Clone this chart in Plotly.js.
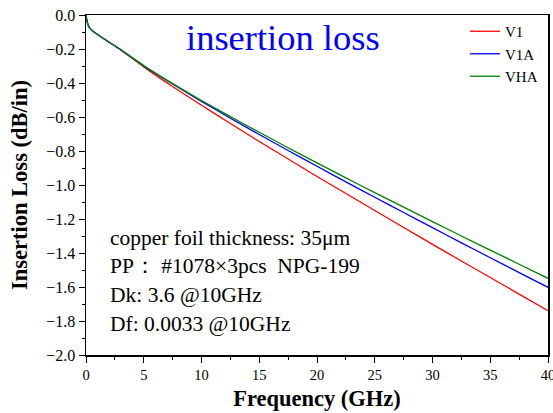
<!DOCTYPE html>
<html><head><meta charset="utf-8">
<script src="https://cdn.plot.ly/plotly-3.0.1.min.js"></script>
<style>html,body{margin:0;padding:0;background:#fff}#c{width:553px;height:413px}</style>
</head><body><div id="c"></div>
<script>
const freq = [0, 0.1, 0.3, 0.6, 1, 2, 3, 5, 7.5, 10, 12.5, 15, 17.5, 20, 22.5, 25, 27.5, 30, 32.5, 35, 37.5, 40];
const v1  = [0, -0.04, -0.075, -0.095, -0.115, -0.16, -0.205, -0.305, -0.421, -0.531, -0.638, -0.744, -0.847, -0.950, -1.050, -1.150, -1.250, -1.349, -1.447, -1.544, -1.642, -1.740];
const v1a = [0, -0.04, -0.075, -0.095, -0.115, -0.16, -0.204, -0.300, -0.406, -0.508, -0.607, -0.703, -0.797, -0.890, -0.982, -1.072, -1.162, -1.251, -1.340, -1.428, -1.515, -1.602];
const vha = [0, -0.04, -0.075, -0.095, -0.115, -0.16, -0.203, -0.298, -0.404, -0.503, -0.598, -0.690, -0.781, -0.870, -0.958, -1.045, -1.130, -1.215, -1.300, -1.383, -1.466, -1.549];
const seriesNames = ["V1", "V1A", "VHA"];
const seriesColors = ["#ff0000", "#0000ff", "#008000"];
const notes = ["copper foil thickness: 35μm", "PP： #1078×3pcs  NPG-199", "Dk: 3.6 @10GHz", "Df: 0.0033 @10GHz"];

const serif = "'Liberation Serif', 'Times New Roman', Times, serif";
const traces = [v1, v1a, vha].map((v, i) => ({
  x: freq, y: v, type: "scatter", mode: "lines", name: seriesNames[i],
  line: {color: seriesColors[i], width: 1.3, shape: "spline", smoothing: 0.5}
}));

const notePos = [238, 266, 295, 324];
const annotations = notes.map((t, i) => ({
  text: t, xref: "paper", yref: "paper", x: (108 - 86) / 462, y: 1 - (notePos[i] - 15) / 340,
  xanchor: "left", yanchor: "middle", showarrow: false,
  font: {family: serif, size: 21.5, color: "#000"}
}));
annotations.push({
  text: "insertion loss", xref: "paper", yref: "paper", x: (283 - 86) / 462, y: 1 - (38 - 15) / 340,
  xanchor: "center", yanchor: "middle", showarrow: false,
  font: {family: serif, size: 36.5, color: "#0000ff"}
});

const layout = {
  width: 553, height: 413,
  margin: {l: 86, r: 5, t: 15, b: 58},
  paper_bgcolor: "#fff", plot_bgcolor: "#fff",
  font: {family: serif, color: "#000", size: 14},
  showlegend: true,
  legend: {x: (465 - 86) / 462, y: 1 - (15 - 15) / 340, xanchor: "left", yanchor: "top",
           bgcolor: "rgba(0,0,0,0)", font: {family: serif, size: 15}, tracegroupgap: 0},
  xaxis: {range: [0, 40], dtick: 5, tick0: 0, showgrid: false, zeroline: false,
          showline: true, linecolor: "#000", linewidth: 1.5, mirror: true,
          ticks: "outside", ticklen: 6, tickwidth: 1, tickcolor: "#000", ticklabeloverflow: "allow",
          minor: {dtick: 2.5, ticks: "outside", ticklen: 3, tickcolor: "#000"},
          tickfont: {family: serif, size: 14.5},
          title: {text: "<b>Frequency (GHz)</b>", font: {family: serif, size: 22.5}, standoff: 8}},
  yaxis: {range: [-2.0, 0.0], dtick: 0.2, tick0: 0, tickformat: ".1f", showgrid: false, zeroline: false,
          showline: true, linecolor: "#000", linewidth: 1.5, mirror: true,
          ticks: "outside", ticklen: 6, tickwidth: 1, tickcolor: "#000",
          minor: {dtick: 0.1, ticks: "outside", ticklen: 3, tickcolor: "#000"},
          tickfont: {family: serif, size: 16},
          title: {text: "<b>Insertion Loss (dB/in)</b>", font: {family: serif, size: 22.5}, standoff: 12}},
  xaxis2: {range: [0, 40], overlaying: "x", side: "top", anchor: "y", dtick: 2.5, ticks: "inside",
           ticklen: 3, tickcolor: "#000", showticklabels: false, showgrid: false, zeroline: false, showline: false},
  yaxis2: {range: [-2.0, 0.0], overlaying: "y", side: "right", anchor: "x", dtick: 0.1, ticks: "inside",
           ticklen: 3, tickcolor: "#000", showticklabels: false, showgrid: false, zeroline: false, showline: false},
  annotations: annotations
};
Plotly.newPlot("c", traces, layout, {displayModeBar: false, staticPlot: true});
</script></body></html>
